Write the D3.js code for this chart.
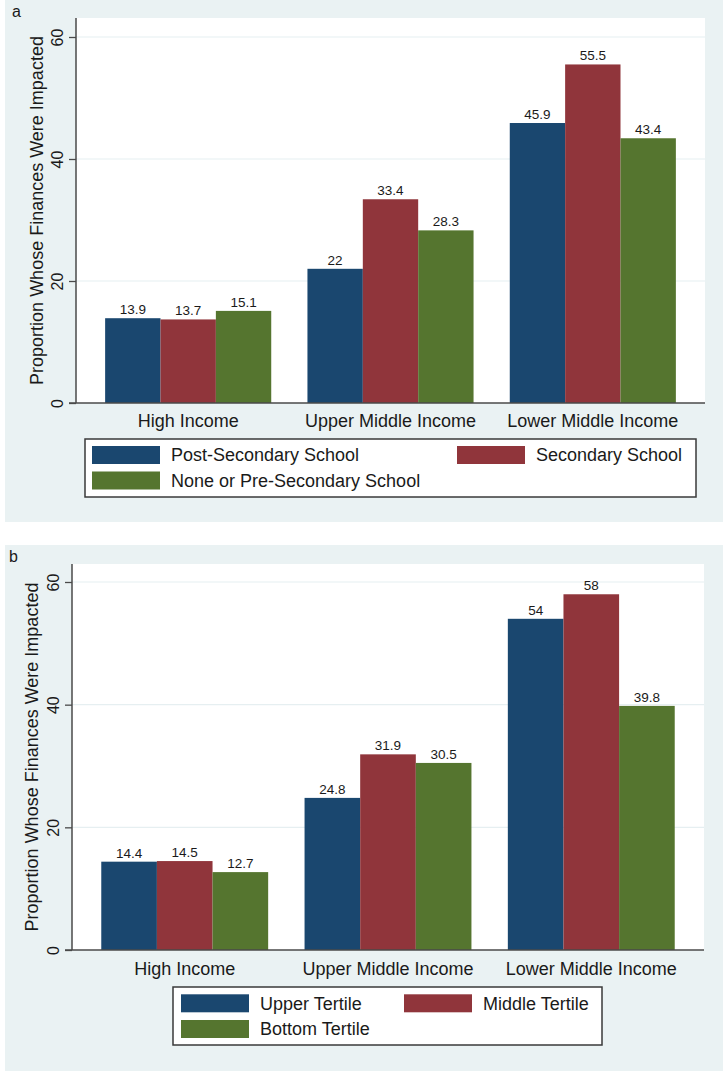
<!DOCTYPE html>
<html>
<head>
<meta charset="utf-8">
<script src="https://cdn.jsdelivr.net/npm/d3@7"></script>
<style>
  html, body { margin: 0; padding: 0; background: #ffffff; }
  svg { display: block; }
  text { font-family: "Liberation Sans", Arial, sans-serif; fill: #1a1a1a; }
</style>
</head>
<body>
<svg id="chart" width="723" height="1071"></svg>
<script>
// ---------- DATA ----------
const categories = ["High Income", "Upper Middle Income", "Lower Middle Income"];
const yTicks = [0, 20, 40, 60];
const yTitle = "Proportion Whose Finances Were Impacted";

// Panel a: education
const seriesNamesA = ["Post-Secondary School", "Secondary School", "None or Pre-Secondary School"];
const postSecondary = [13.9, 22, 45.9];
const secondary = [13.7, 33.4, 55.5];
const noneOrPre = [15.1, 28.3, 43.4];

// Panel b: wealth tertile
const seriesNamesB = ["Upper Tertile", "Middle Tertile", "Bottom Tertile"];
const upperTertile = [14.4, 24.8, 54];
const middleTertile = [14.5, 31.9, 58];
const bottomTertile = [12.7, 30.5, 39.8];

const colors = ["#1a476f", "#90353b", "#55752f"];

// ---------- DRAW ----------
const svg = d3.select("#chart");

function drawPanel(cfg) {
  const g = svg.append("g");
  // panel background
  g.append("rect").attr("x", cfg.bg[0]).attr("y", cfg.bg[1])
    .attr("width", cfg.bg[2]).attr("height", cfg.bg[3]).attr("fill", "#eaf2f3");
  // panel letter
  g.append("text").attr("x", cfg.letterPos[0]).attr("y", cfg.letterPos[1])
    .attr("font-size", 16).text(cfg.letter);

  const x0 = d3.scaleBand().domain(categories)
    .range([cfg.plot.left, cfg.plot.right])
    .paddingInner(0.179).paddingOuter(0.144);
  const x1 = d3.scaleBand().domain(d3.range(cfg.series.length))
    .range([0, x0.bandwidth()]).padding(0);
  const y = d3.scaleLinear().domain([0, 60]).range([cfg.plot.zero, cfg.plot.y60]);

  // plot region
  g.append("rect").attr("x", cfg.plot.left).attr("y", cfg.plot.top)
    .attr("width", cfg.plot.right - cfg.plot.left)
    .attr("height", cfg.plot.zero - cfg.plot.top).attr("fill", "#ffffff");

  // gridlines
  g.append("g").selectAll("line").data(yTicks.filter(t => t > 0)).join("line")
    .attr("x1", cfg.plot.left).attr("x2", cfg.plot.right)
    .attr("y1", d => y(d)).attr("y2", d => y(d))
    .attr("stroke", "#e6eff1").attr("stroke-width", 1.2);

  // bars
  const groups = g.append("g").selectAll("g").data(categories).join("g")
    .attr("transform", c => `translate(${x0(c)},0)`);
  groups.each(function(c, ci) {
    const gg = d3.select(this);
    cfg.series.forEach((s, si) => {
      const v = s[ci];
      gg.append("rect")
        .attr("x", x1(si)).attr("width", x1.bandwidth())
        .attr("y", y(v)).attr("height", y(0) - y(v))
        .attr("fill", colors[si]);
      gg.append("text")
        .attr("x", x1(si) + x1.bandwidth() / 2).attr("y", y(v) - 4)
        .attr("text-anchor", "middle").attr("font-size", 13.5)
        .text(d3.format("")(v));
    });
  });

  // y axis
  const yAxis = d3.axisLeft(y).tickValues(yTicks).tickSize(7).tickPadding(5);
  const ya = g.append("g").attr("transform", `translate(${cfg.plot.left},0)`).call(yAxis);
  ya.select(".domain").attr("stroke", "#4a4a4a").attr("stroke-width", 1.5)
    .attr("d", `M0,${cfg.plot.top}V${cfg.plot.zero}`);
  ya.selectAll(".tick line").attr("stroke", "#4a4a4a").attr("stroke-width", 1.3);
  ya.selectAll(".tick text")
    .attr("font-size", 16).attr("fill", "#1a1a1a")
    .attr("font-family", '"Liberation Sans", Arial, sans-serif')
    .attr("x", null).attr("dy", null)
    .attr("text-anchor", "middle")
    .attr("transform", `translate(${-cfg.tickLabelOff},0) rotate(-90)`)
    .attr("y", 0).attr("dy", "0.35em");

  // x axis
  const xAxis = d3.axisBottom(x0).tickSize(0).tickPadding(0);
  const xa = g.append("g").attr("transform", `translate(0,${cfg.plot.zero})`).call(xAxis);
  xa.select(".domain").attr("stroke", "#4a4a4a").attr("stroke-width", 1.5)
    .attr("d", `M${cfg.plot.left - 7},0H${cfg.plot.right}`);
  xa.selectAll(".tick text")
    .attr("font-size", 18).attr("fill", "#1a1a1a")
    .attr("font-family", '"Liberation Sans", Arial, sans-serif')
    .attr("y", cfg.catLabelDy).attr("dy", "0.35em");

  // y title
  g.append("text")
    .attr("transform", `translate(${cfg.yTitleX},${(cfg.plot.top + cfg.plot.zero) / 2}) rotate(-90)`)
    .attr("text-anchor", "middle").attr("dy", "0.35em")
    .attr("font-size", 18).text(yTitle);

  // legend
  const L = cfg.legend;
  g.append("rect").attr("x", L.box[0]).attr("y", L.box[1])
    .attr("width", L.box[2]).attr("height", L.box[3])
    .attr("fill", "#ffffff").attr("stroke", "#3a3a3a").attr("stroke-width", 1.5);
  cfg.names.forEach((n, i) => {
    const p = L.items[i];
    g.append("rect").attr("x", p[0]).attr("y", p[1] - 9)
      .attr("width", 68).attr("height", 18).attr("fill", colors[i]);
    g.append("text").attr("x", p[0] + 79).attr("y", p[1]).attr("dy", "0.35em")
      .attr("font-size", 18).text(n);
  });
}

drawPanel({
  letter: "a", letterPos: [12, 17],
  bg: [5, 0, 718, 522],
  plot: { left: 76, right: 705, top: 18, zero: 403, y60: 37 },
  series: [postSecondary, secondary, noneOrPre],
  names: seriesNamesA,
  tickLabelOff: 19, yTitleX: 37, catLabelDy: 18,
  legend: { box: [85, 439, 611, 58], items: [[92, 455], [457, 455], [92, 480.5]] }
});

drawPanel({
  letter: "b", letterPos: [9, 562],
  bg: [5, 545, 718, 526],
  plot: { left: 72, right: 704, top: 564, zero: 950, y60: 582 },
  series: [upperTertile, middleTertile, bottomTertile],
  names: seriesNamesB,
  tickLabelOff: 18.5, yTitleX: 32, catLabelDy: 19,
  legend: { box: [173, 987, 429, 58], items: [[181, 1003.3], [404, 1003.3], [181, 1029]] }
});
</script>
</body>
</html>
